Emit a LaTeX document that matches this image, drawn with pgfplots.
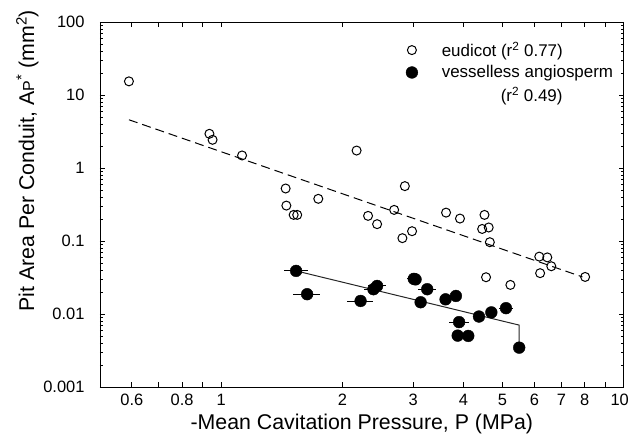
\documentclass[border=0pt]{standalone}
\usepackage{pgfplots}
\pgfplotsset{compat=1.18}
\usepackage{fontspec}
\setmainfont{Liberation Sans}
\begin{document}
\begin{tikzpicture}
\begin{axis}[
  scale only axis,
  width=523.7bp, height=365.3bp,
  xmode=log, ymode=log,
  xmin=0.5, xmax=10, ymin=0.001, ymax=100,
  axis line style={line width=0.9bp},
  tick style={line width=0.8bp, black},
  tick align=inside,
  major tick length=5bp, minor tick length=3bp,
  xtick={0.6,0.7,0.8,0.9,1,2,3,4,5,6,7,8,9,10},
  xticklabels={0.6,,0.8,,\raisebox{-3bp}{1},2,3,4,5,6,7,8,,\hspace*{-8bp}10},
  minor xtick={},
  ytick={0.001,0.01,0.1,1,10,100},
  yticklabels={0.001,0.01,0.1,1,10,100},
  tick label style={font=\fontsize{16.5}{18}\selectfont},
  xticklabel style={yshift=-3bp},
  yticklabel style={xshift=-12bp},
  label style={font=\fontsize{21.4}{24}\selectfont},
  xlabel={-Mean Cavitation Pressure, P (MPa)},
  xlabel style={yshift=-2bp},
  ylabel={Pit Area Per Conduit, A{\fontsize{16}{16}\selectfont P}\textsuperscript{*} (mm\textsuperscript{2})},
  ylabel style={at={(ticklabel cs:0.62)}, yshift=-2bp},
  legend style={draw=none, fill=none, inner sep=0pt, at={(rel axis cs:0.984,0.951)}, anchor=north east,
    font=\fontsize{17}{20}\selectfont, row sep=3.5bp},
  legend cell align=left,
]
\coordinate (bl) at (rel axis cs:0,0);
\coordinate (tr) at (rel axis cs:1,1);

% eudicot
\addplot[only marks, mark=o, mark size=4.5bp, mark options={line width=1bp, fill=white}] table {
0.590 15.4
0.935 2.95
0.952 2.44
1.127 1.49
1.446 0.526
1.452 0.307
1.514 0.229
1.545 0.229
1.743 0.38
2.17 1.74
2.317 0.222
2.44 0.171
2.69 0.268
2.82 0.11
2.86 0.567
2.98 0.137
3.62 0.246
3.92 0.204
4.45 0.147
4.51 0.229
4.55 0.0321
4.62 0.154
4.65 0.0968
5.23 0.0252
6.17 0.0615
6.20 0.0365
6.46 0.060
6.61 0.0454
8.02 0.0324
};
\addlegendentry{\hspace{22bp}eudicot (r\textsuperscript{2} 0.77)}

% vesselless angiosperm
\addplot[only marks, mark=*, mark size=5.9bp, mark options={fill=black},
  error bars/.cd, x dir=both, x explicit, error mark=none,
  error bar style={line width=0.9bp}]
  table[x=x, y=y, x error=ex] {
x y ex
1.535 0.0392 0.105
1.635 0.0188 0.13
2.22 0.0152 0.17
2.39 0.0220 0.12
2.44 0.0244 0.12
3.01 0.0305 0.12
3.04 0.0300 0.0
3.13 0.0146 0.0
3.25 0.0220 0.17
3.61 0.0160 0.06
3.83 0.0178 0.0
3.90 0.0078 0.22
3.87 0.0051 0.0
4.11 0.00505 0.0
4.37 0.0093 0.15
4.69 0.0106 0.0
5.10 0.0121 0.2
5.50 0.00349 0.0
};
\addlegendentry{\hspace{22bp}vesselless angiosperm}

\addlegendimage{empty legend}
\addlegendentry{\hspace{81bp}(r\textsuperscript{2} 0.49)}

% fits
\addplot[black, line width=1bp, dash pattern=on 9bp off 5bp, forget plot] coordinates {(0.59,4.59) (7.9,0.0324)};
\addplot[black!85, line width=1bp, forget plot] coordinates {(1.535,0.0392) (5.5,0.0071) (5.5,0.00349)};
\end{axis}
\pgfresetboundingbox
\useasboundingbox ([xshift=-100bp,yshift=-56.7bp]bl) rectangle ([xshift=6.3bp,yshift=22bp]tr);
\end{tikzpicture}
\end{document}
